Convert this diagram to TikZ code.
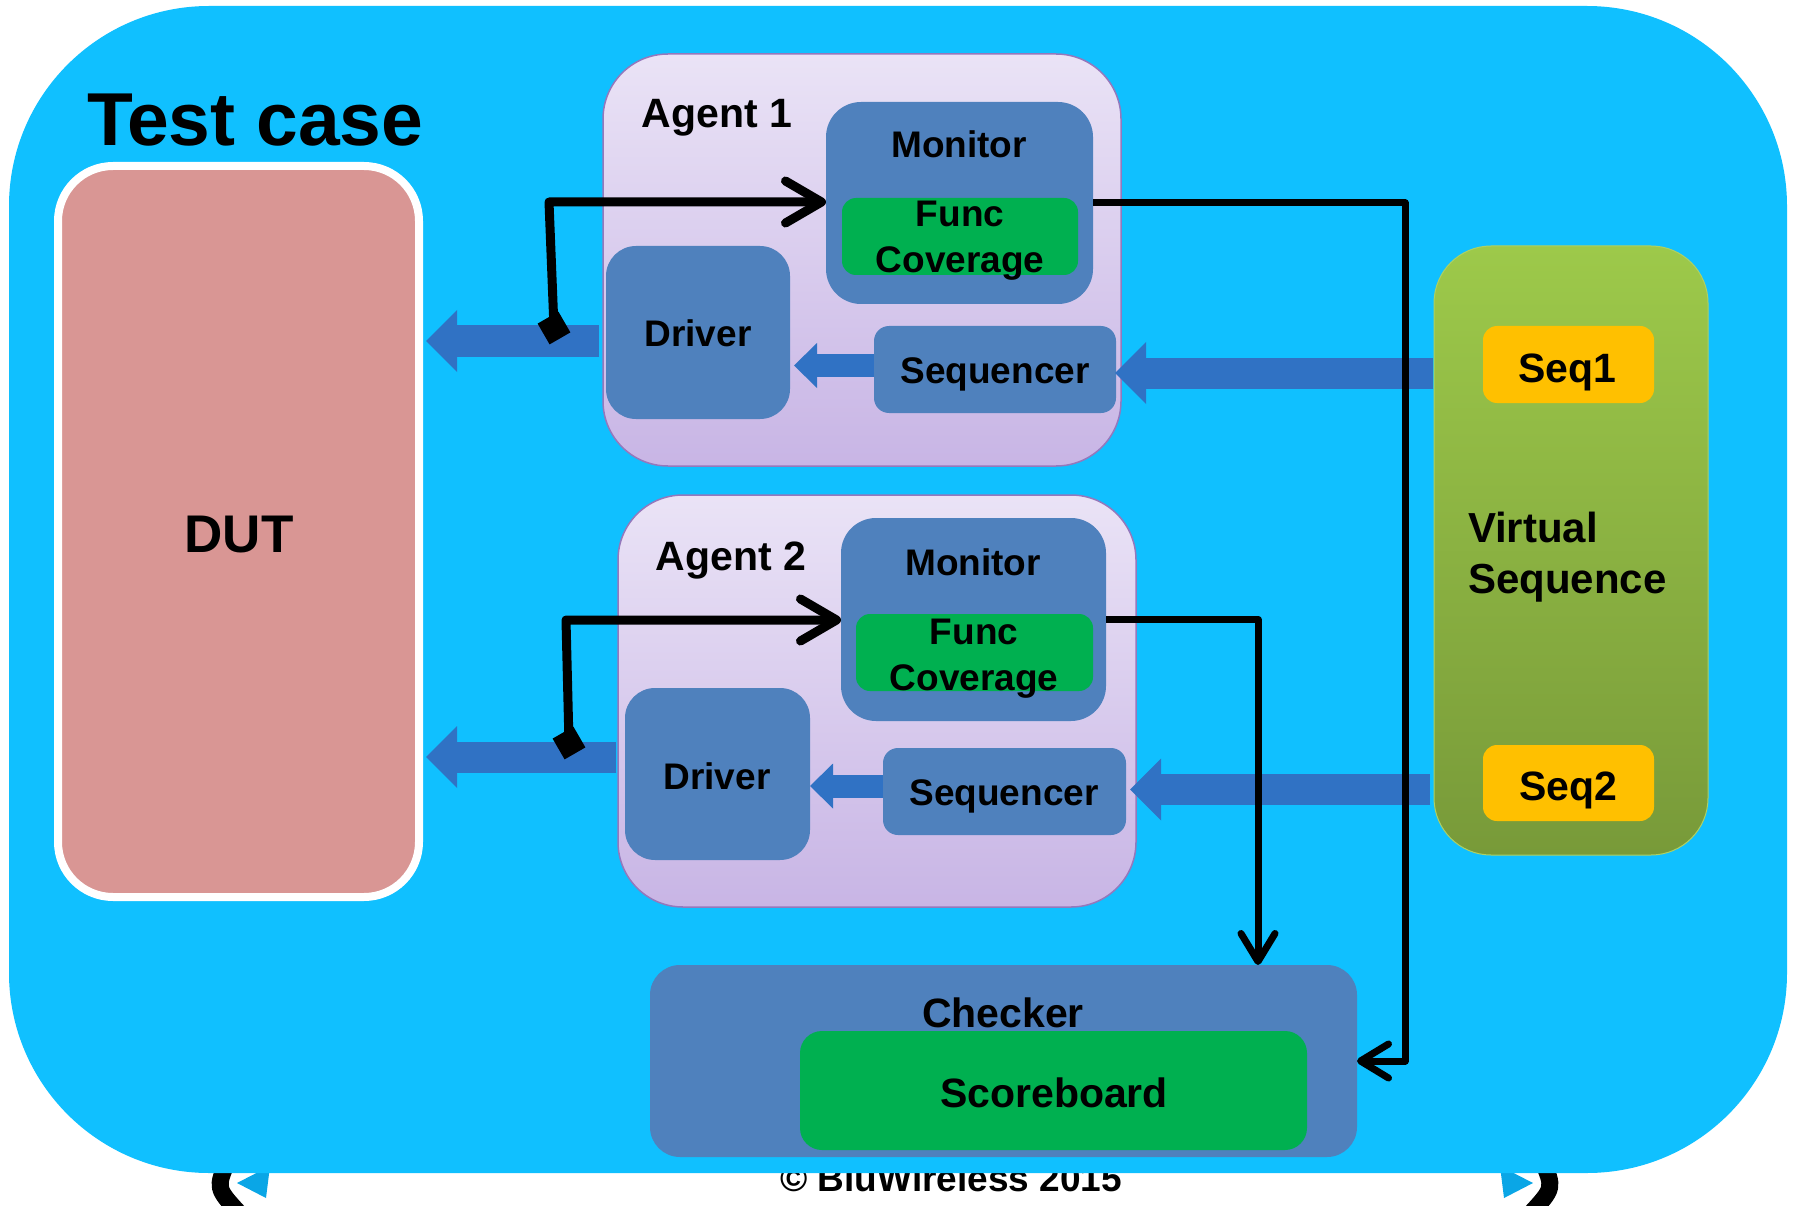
\documentclass[tikz,border=0pt]{standalone}
\usepackage{fontspec}
\setmainfont{Liberation Sans}
\usetikzlibrary{arrows.meta,calc}
\definecolor{bgblue}{HTML}{10C0FF}
\definecolor{dutpink}{HTML}{D99694}
\definecolor{steel}{HTML}{4F81BD}
\definecolor{covgreen}{HTML}{00B050}
\definecolor{arrowblue}{HTML}{3072C4}
\definecolor{agtop}{HTML}{EAE3F6}
\definecolor{agbot}{HTML}{C8B5E5}
\definecolor{agborder}{HTML}{9478BC}
\definecolor{vstop}{HTML}{9DC94A}
\definecolor{vsbot}{HTML}{789A39}
\definecolor{seqyellow}{HTML}{FFC000}
\definecolor{iconblue}{HTML}{0AA6E6}
\newcommand{\fsz}[1]{\fontsize{#1}{#1}\selectfont}
\begin{document}
\begin{tikzpicture}[x=1pt,y=-1pt,
  every node/.style={inner sep=0pt, outer sep=0pt},
  sbox/.style={fill=steel, rounded corners=30pt},
  gbox/.style={fill=covgreen, rounded corners=14pt},
  ybox/.style={fill=seqyellow, rounded corners=14pt},
  agentbox/.style={top color=agtop, bottom color=agbot, draw=agborder, line width=1.5pt, rounded corners=65pt},
  lbl/.style={anchor=base, font=\bfseries\fsz{37}},
  biglbl/.style={anchor=base, font=\bfseries\fsz{41}},
  bigarrow/.style={draw=arrowblue, line width=31pt, -{Triangle[length=31pt,width=62pt,line width=0pt]}},
  smallarrow/.style={draw=arrowblue, line width=23pt, -{Triangle[length=23pt,width=45pt,line width=0pt]}},
  wire/.style={draw=black, line width=9pt, line join=round, -{Straight Barb[length=36pt,width=42pt,round]}},
  thinwire/.style={draw=black, line width=7pt, line join=round, -{Straight Barb[length=28pt,width=34pt,round]}},
  tail/.style={fill=black, minimum size=24pt, rotate=30},
  iconline/.style={line width=17pt, line cap=round}
]
\useasboundingbox (0,0) rectangle (1794,1206);
% footer (partly hidden behind the test case panel)
\node[anchor=base, font=\bfseries\fsz{37}] (foot) at (951,1191) {© BluWireless 2015};
\draw[iconline] (228,1160) .. controls (216,1188) .. (240,1214);
\fill[iconblue] (237,1183) -- (270,1166) -- (266,1198) -- cycle;
\draw[iconline] (1542,1160) .. controls (1554,1188) .. (1530,1214);
\fill[iconblue] (1533,1183) -- (1500,1166) -- (1504,1198) -- cycle;
% test case panel
\fill[bgblue, rounded corners=200pt] (9,6) rectangle (1787,1173);
\node[anchor=base west, font=\bfseries\fsz{75}] (tc) at (87,146) {Test case};
% DUT
\node[fill=dutpink, draw=white, line width=8pt, rounded corners=55pt, minimum width=361pt, minimum height=731pt] (dut) at (238.5,531.5) {};
\node[anchor=base, font=\bfseries\fsz{53}] (dutl) at (239,552) {DUT};
% Agent 1
\node[agentbox, minimum width=518pt, minimum height=412pt] (ag1) at (862,260) {};
\node[biglbl] (ag1l) at (717,128) {Agent 1};
\node[sbox, rounded corners=35pt, minimum width=267pt, minimum height=202pt] (mon1) at (959.5,203) {};
\node[lbl] (mon1l) at (959,158) {Monitor};
\node[gbox, minimum width=236pt, minimum height=77pt] (fc1) at (960,236.5) {};
\node[lbl] (fc1a) at (960,227) {Func};
\node[lbl] (fc1b) at (960,273) {Coverage};
\node[sbox, minimum width=184pt, minimum height=173pt] (drv1) at (698,332.5) {};
\node[lbl] (drv1l) at (698,347) {Driver};
\node[sbox, rounded corners=15pt, minimum width=242pt, minimum height=87pt] (sq1) at (995,369.5) {};
\node[lbl] (sq1l) at (995,383) {Sequencer};
% Agent 2
\node[agentbox, minimum width=518pt, minimum height=412pt] (ag2) at (877,701) {};
\node[biglbl] (ag2l) at (731,570) {Agent 2};
\node[sbox, rounded corners=35pt, minimum width=265pt, minimum height=203pt] (mon2) at (973.5,619.5) {};
\node[lbl] (mon2l) at (973,575) {Monitor};
\node[gbox, minimum width=237pt, minimum height=77pt] (fc2) at (974.5,652.5) {};
\node[lbl] (fc2a) at (974,644) {Func};
\node[lbl] (fc2b) at (974,690) {Coverage};
\node[sbox, minimum width=185pt, minimum height=172pt] (drv2) at (717.5,774) {};
\node[lbl] (drv2l) at (717,789) {Driver};
\node[sbox, rounded corners=15pt, minimum width=243pt, minimum height=87pt] (sq2) at (1004.5,791.5) {};
\node[lbl] (sq2l) at (1004,805) {Sequencer};
% Checker
\node[sbox, minimum width=707pt, minimum height=192pt] (chk) at (1003.5,1061) {};
\node[biglbl] (chkl) at (1003,1027) {Checker};
\node[gbox, rounded corners=22pt, minimum width=507pt, minimum height=119pt] (sb) at (1053.5,1090.5) {};
\node[biglbl] (sbl) at (1054,1107) {Scoreboard};
% Virtual sequence
\node[top color=vstop, bottom color=vsbot, draw=vstop!85!white, line width=1pt, rounded corners=57pt, minimum width=274pt, minimum height=609pt] (vs) at (1571,550.5) {};
\node[ybox, minimum width=171pt, minimum height=77pt] (seq1) at (1568.5,364.5) {};
\node[biglbl] (seq1l) at (1567,382) {Seq1};
\node[ybox, minimum width=171pt, minimum height=76pt] (seq2) at (1568.5,783) {};
\node[biglbl] (seq2l) at (1568,800) {Seq2};
\node[anchor=base west, font=\bfseries\fsz{42}] (vsl1) at (1468,542) {Virtual};
\node[anchor=base west, font=\bfseries\fsz{42}] (vsl2) at (1468,593) {Sequence};
% block arrows
\coordinate (a1t) at (599,341);
\coordinate (a2t) at (616,757);
\draw[bigarrow] (a1t) -- ([xshift=7pt]a1t -| dut.east);
\draw[bigarrow] (a2t) -- ([xshift=7pt]a2t -| dut.east);
\draw[smallarrow] ([yshift=4pt]sq1.west) -- ([yshift=4pt,xshift=4pt]sq1.west -| drv1.east);
\draw[smallarrow] ([yshift=5.5pt]sq2.west) -- ([yshift=5.5pt]sq2.west -| drv2.east);
\coordinate (s1t) at (1433,373);
\coordinate (s2t) at (1430,789.5);
\draw[bigarrow] (s1t) -- ([xshift=-1pt]s1t -| sq1.east);
\draw[bigarrow] (s2t) -- ([xshift=4pt]s2t -| sq2.east);
% monitor connections
\node[tail] (d1) at (554,328) {};
\coordinate (c1) at (549,202);
\draw[wire] (d1.center) -- (c1) -- (c1 -| mon1.west);
\node[tail] (d2) at (569,743) {};
\coordinate (c2) at (566,620);
\draw[wire] (d2.center) -- (c2) -- (c2 -| mon2.west);
\coordinate (rx1) at (1405,0);
\coordinate (rx2) at (1258,0);
\draw[thinwire] (mon1.east) -- (mon1.east -| rx1) -- (rx1 |- chk.east) -- (chk.east);
\draw[thinwire] (mon2.east) -- (mon2.east -| rx2) -- (rx2 |- chk.north);
\end{tikzpicture}
\end{document}
